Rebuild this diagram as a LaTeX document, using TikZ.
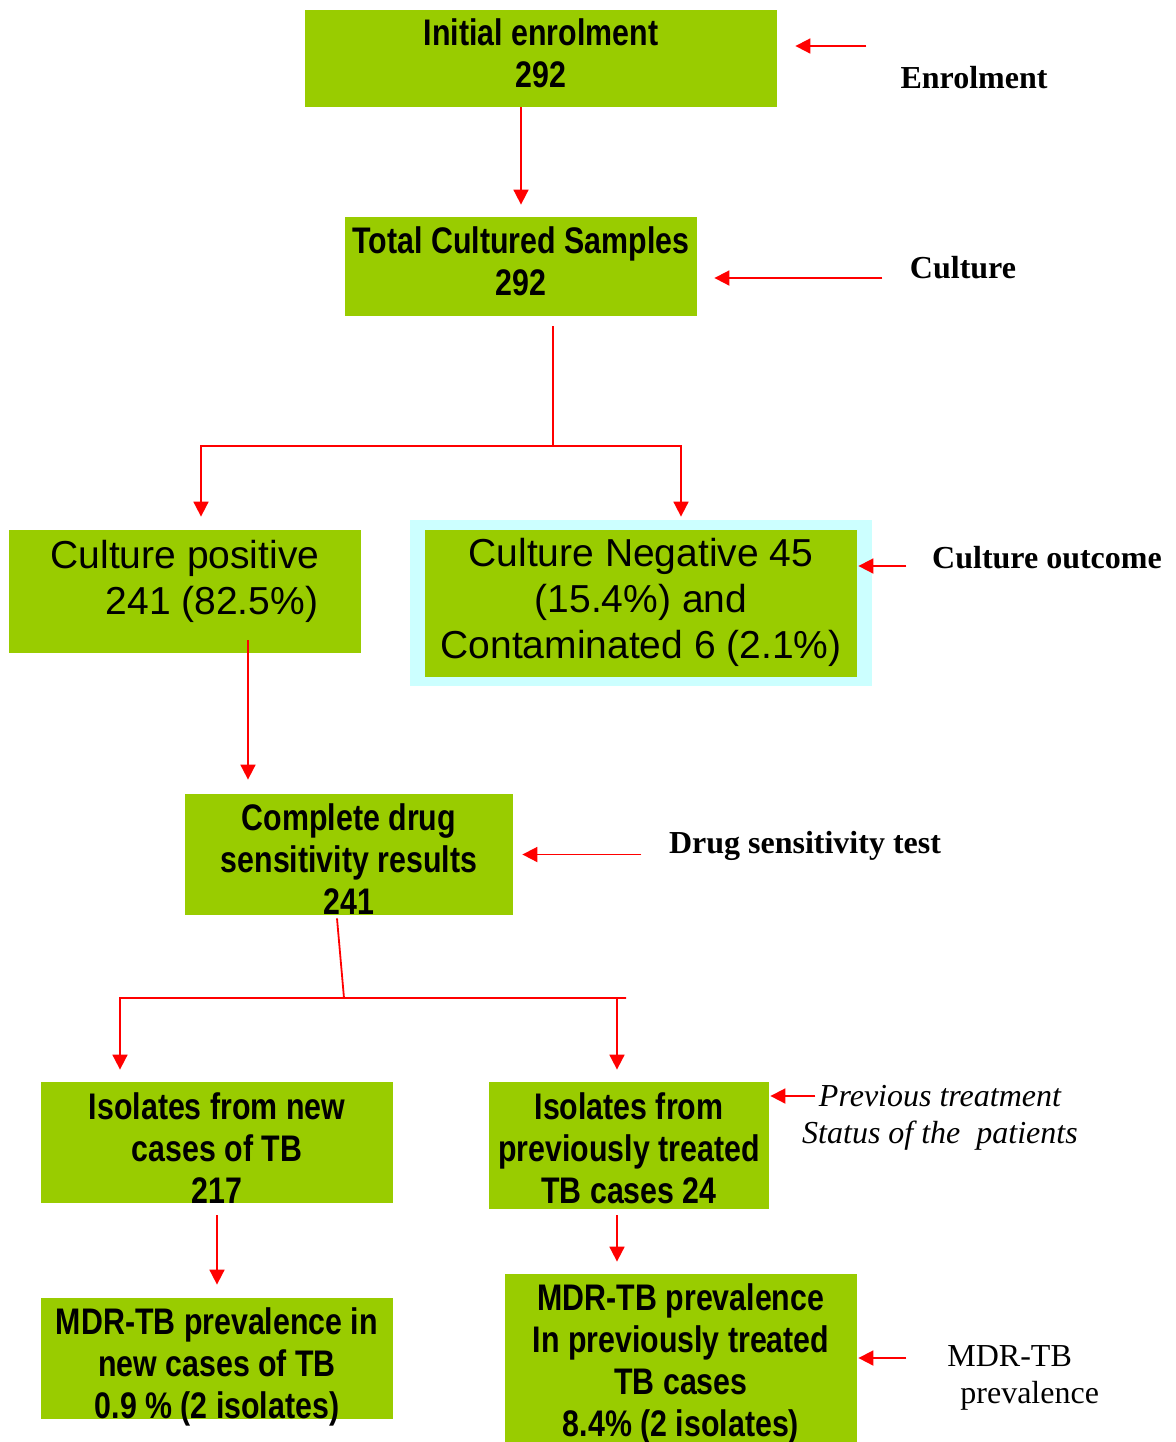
\documentclass[tikz,border=0pt]{standalone}
\usepackage{fontspec}
\setmainfont{Liberation Serif}
\newfontfamily\arialfont{Liberation Sans}
\newfontfamily\narrowfont[FakeStretch=0.82]{Liberation Sans}
\usetikzlibrary{arrows.meta}
\definecolor{boxgreen}{RGB}{153,204,0}
\definecolor{framecyan}{RGB}{204,255,255}
\definecolor{arrred}{RGB}{255,0,0}

\begin{document}
\begin{tikzpicture}[
  x=0.5pt, y=-0.5pt,
  box/.style={fill=boxgreen, inner sep=0pt, align=center, text depth=0pt,
              font=\narrowfont\bfseries\fontsize{18.5}{21}\selectfont},
  plainbox/.style={fill=boxgreen, inner sep=0pt, align=center, text depth=0pt,
                   font=\arialfont\fontsize{19.5}{23}\selectfont},
  side/.style={font=\bfseries\fontsize{16}{18.5}\selectfont},
  arr/.style={-{Triangle[length=7.5pt,width=7.5pt]}, arrred, line width=0.9pt},
  link/.style={arrred, line width=0.9pt}
]
\useasboundingbox (0,0) rectangle (1176,1442);

% flow boxes
\node[box, minimum width=236pt, minimum height=48.5pt, text height=28.5pt] (enrol) at (541,58.5)
  {Initial enrolment\\292};
\node[box, minimum width=176pt, minimum height=49.5pt, text height=28.5pt] (total) at (521,266.5)
  {Total Cultured Samples\\292};
\node[plainbox, minimum width=176pt, minimum height=61.5pt, text height=22.5pt] (cpos) at (185,591.5)
  {Culture positive\\\hspace*{27pt}241 (82.5\%)};
\node[fill=framecyan, inner sep=0pt, minimum width=231pt, minimum height=83pt] (negframe) at (641,603) {};
\node[plainbox, minimum width=216pt, minimum height=73.5pt, text height=54.5pt] (cneg) at (641,603.5)
  {Culture Negative 45\\(15.4\%) and\\Contaminated 6 (2.1\%)};
\node[box, minimum width=164pt, minimum height=60.5pt, text height=59.5pt] (dst) at (349,854.5)
  {Complete drug\\sensitivity results\\241};
\node[box, minimum width=176pt, minimum height=60.5pt, text height=60.5pt] (newtb) at (217,1142.5)
  {Isolates from new\\cases of TB\\217};
\node[box, minimum width=140pt, minimum height=63.5pt, text height=57.5pt] (prevtb) at (629,1145.5)
  {Isolates from\\previously treated\\TB cases 24};
\node[box, minimum width=176pt, minimum height=60.5pt, text height=59.5pt] (mdrnew) at (217,1358.5)
  {MDR-TB prevalence in\\new cases of TB\\0.9 \% (2 isolates)};
\node[box, minimum width=176pt, minimum height=84pt, text height=78pt] (mdrprev) at (681,1358)
  {MDR-TB prevalence\\In previously treated\\TB cases\\8.4\% (2 isolates)};

% stage labels
\node[side] (enrollab) at (974,78) {Enrolment};
\node[side] (cultlab) at (963,268) {Culture};
\node[side] (outlab) at (1047,558) {Culture outcome};
\node[side] (dstlab) at (805,846) {Drug sensitivity test};
\node[font=\itshape\fontsize{16}{18.5}\selectfont, align=center] (prevlab) at (940,1118)
  {Previous treatment\\Status of the\ \ patients};
\node[font=\fontsize{16}{18.5}\selectfont, align=left, anchor=west, inner sep=0pt] (mdrlab) at (947,1378)
  {MDR-TB\\\hspace*{6.5pt}prevalence};

% main flow
\draw[arr] (enrol.south -| total.north) -- ([yshift=6pt]total.north);
\coordinate (split1) at (553,446);
\draw[link] ([xshift=16pt,yshift=-5pt]total.south) -- (split1);
\draw[arr] (split1) -| ([xshift=8pt,yshift=6.5pt]cpos.north);
\draw[arr] (split1) -| ([xshift=20pt,yshift=1.5pt]negframe.north);
\draw[arr] ([xshift=31.5pt,yshift=6.5pt]cpos.south) -- ([xshift=-50.5pt,yshift=7pt]dst.north);
\coordinate (split2) at (344,998);
\draw[link] ([xshift=-6pt,yshift=-1.5pt]dst.south) -- (split2) -- ([xshift=141pt]split2);
\draw[arr] (split2) -| ([xshift=-48.5pt,yshift=6pt]newtb.north);
\draw[arr] (split2) -| ([xshift=-6pt,yshift=6pt]prevtb.north);
\draw[arr] ([yshift=-6pt]newtb.south) -- ([yshift=6.5pt]mdrnew.north);
\draw[arr] ([xshift=-6pt,yshift=-3pt]prevtb.south) -- ([xshift=-32pt,yshift=6pt]mdrprev.north);

% stage arrows
\draw[arr] ([xshift=44.5pt,yshift=6.25pt]enrol.east) -- ([xshift=9pt,yshift=6.25pt]enrol.east);
\draw[arr] ([xshift=92.5pt,yshift=-5.75pt]total.east) -- ([xshift=8.5pt,yshift=-5.75pt]total.east);
\draw[arr] ([xshift=24.5pt,yshift=18.75pt]cneg.east) -- ([xshift=0.5pt,yshift=18.75pt]cneg.east);
\draw[arr] ([xshift=64pt]dst.east) -- ([xshift=4.5pt]dst.east);
\draw[arr] ([xshift=23pt,yshift=24.75pt]prevtb.east) -- ([xshift=0.5pt,yshift=24.75pt]prevtb.east);
\draw[arr] ([xshift=24.5pt]mdrprev.east) -- ([xshift=0.5pt]mdrprev.east);
\end{tikzpicture}
\end{document}
